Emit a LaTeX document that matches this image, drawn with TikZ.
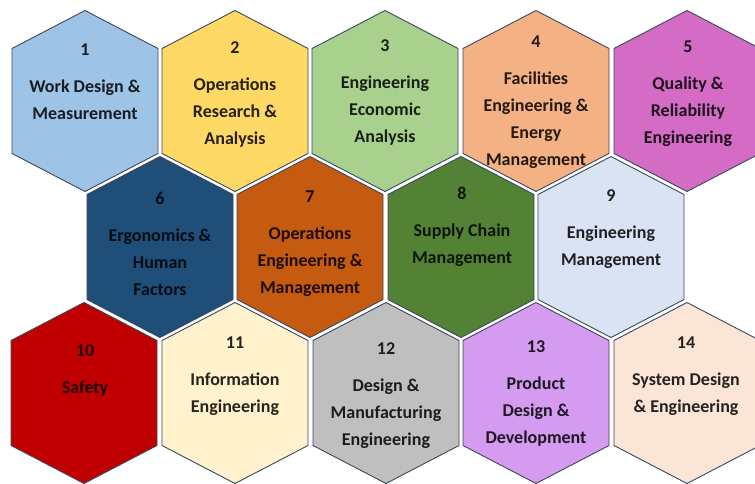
\documentclass[tikz,border=0pt]{standalone}
\usepackage{fontspec}
\setmainfont{Carlito}
\usepackage{xcolor}
\usepackage{tikz}
\usetikzlibrary{positioning,calc}

\definecolor{hexline}{RGB}{58,72,92}
\definecolor{wdm}{RGB}{157,195,230}
\definecolor{ora}{RGB}{255,217,102}
\definecolor{eea}{RGB}{169,209,142}
\definecolor{fem}{RGB}{244,177,131}
\definecolor{qre}{RGB}{212,108,198}
\definecolor{ehf}{RGB}{31,78,121}
\definecolor{oem}{RGB}{197,90,17}
\definecolor{scm}{RGB}{84,130,53}
\definecolor{emg}{RGB}{218,227,243}
\definecolor{saf}{RGB}{192,0,0}
\definecolor{inf}{RGB}{255,242,204}
\definecolor{dme}{RGB}{191,191,191}
\definecolor{pdd}{RGB}{212,155,240}
\definecolor{sde}{RGB}{251,229,214}

\begin{document}
\begin{tikzpicture}[x=1pt, y=-1pt,
    cell/.style={draw=hexline, line width=0.9pt, line join=miter},
    hex/.pic={\path[cell, pic actions] (0,-90.5) -- (73,-52.5) -- (73,52.5) -- (0,90.5) -- (-73,52.5) -- (-73,-52.5) -- cycle;},
    txt/.style={anchor=north, align=center, inner sep=0pt, text=black, text opacity=0.85,
        font=\fontsize{18}{27}\selectfont\bfseries}]
    \useasboundingbox (0,0) rectangle (755,483);
    \clip (0,0) rectangle (755,483);

    % Row 1
    \pic[fill=wdm] at (85,101) {hex};
    \pic[fill=ora] at (235,101) {hex};
    \pic[fill=eea] at (385,101) {hex};
    \pic[fill=fem] at (536,101) {hex};
    \pic[fill=qre] at (687,101) {hex};

    % Row 2
    \pic[fill=ehf] at (160,247) {hex};
    \pic[fill=oem] at (310,247) {hex};
    \pic[fill=scm] at (461,247) {hex};
    \pic[fill=emg] at (611,247) {hex};

    % Row 3
    \pic[fill=saf] at (84,393) {hex};
    \pic[fill=inf] at (235,393) {hex};
    \pic[fill=dme] at (386,393) {hex};
    \pic[fill=pdd] at (536,393) {hex};
    \pic[fill=sde] at (687,393) {hex};

    % Labels
    \node[txt] (t1) at (85,44) {1\\[10pt]Work Design \&\\Measurement};
    \node[txt] (t2) at (235,41) {2\\[10pt]Operations\\Research \&\\Analysis};
    \node[txt] (t3) at (385,39) {3\\[10pt]Engineering\\Economic\\Analysis};
    \node[txt] (t4) at (536,36) {4\\[10pt]Facilities\\Engineering \&\\Energy\\Management};
    \node[txt] (t5) at (688,41) {5\\[10pt]Quality \&\\Reliability\\Engineering};

    \node[txt] (t6) at (160,192) {6\\[10pt]Ergonomics \&\\Human\\Factors};
    \node[txt] (t7) at (310,191) {7\\[10pt]Operations\\Engineering \&\\Management};
    \node[txt] (t8) at (462,187) {8\\[10pt]Supply Chain\\Management};
    \node[txt] (t9) at (611,189) {9\\[10pt]Engineering\\Management};

    \node[txt] (t10) at (85,344) {10\\[10pt]Safety};
    \node[txt] (t11) at (235,337) {11\\[10pt]Information\\Engineering};
    \node[txt] (t12) at (386,342) {12\\[10pt]Design \&\\Manufacturing\\Engineering};
    \node[txt] (t13) at (536,340) {13\\[10pt]Product\\Design \&\\Development};
    \node[txt] (t14) at (686,337) {14\\[10pt]System Design\\\& Engineering};
\end{tikzpicture}
\end{document}
